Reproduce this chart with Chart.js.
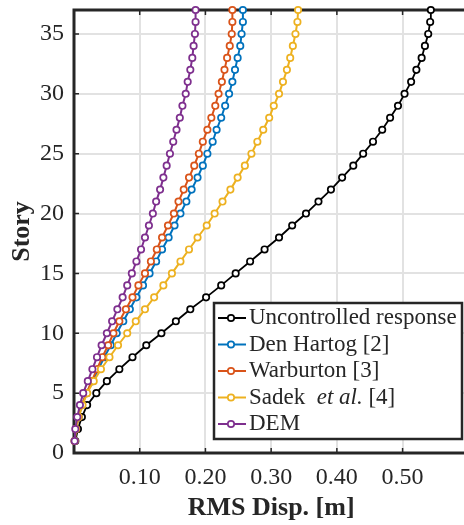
<!DOCTYPE html>
<html>
<head>
<meta charset="utf-8">
<script src="https://cdn.jsdelivr.net/npm/chart.js@4.4.1/dist/chart.umd.min.js"></script>
<style>
  html, body { margin: 0; padding: 0; overflow: hidden; background: #fff; }
  #wrap { width: 464px; height: 525px; overflow: hidden; }
</style>
</head>
<body>
<div id="wrap"><canvas id="rmsChart" width="474" height="525"></canvas></div>
<script>
// story numbers (y axis)
const stories = [1, 2, 3, 4, 5, 6, 7, 8, 9, 10, 11, 12, 13, 14, 15, 16, 17, 18, 19,
  20, 21, 22, 23, 24, 25, 26, 27, 28, 29, 30, 31, 32, 33, 34, 35, 36, 37];

// RMS displacement [m] per story
const uncontrolled = [0.002, 0.006, 0.012, 0.020, 0.034, 0.050, 0.069, 0.089, 0.110, 0.133,
  0.155, 0.177, 0.201, 0.224, 0.246, 0.268, 0.290, 0.312, 0.332, 0.353, 0.372, 0.391, 0.408,
  0.425, 0.440, 0.455, 0.469, 0.481, 0.493, 0.503, 0.513, 0.521, 0.529, 0.534, 0.539, 0.542, 0.543];
const denHartog = [0.001, 0.003, 0.007, 0.012, 0.019, 0.028, 0.037, 0.046, 0.056, 0.065,
  0.075, 0.085, 0.095, 0.105, 0.115, 0.125, 0.134, 0.144, 0.153, 0.162, 0.171, 0.179, 0.188,
  0.196, 0.203, 0.211, 0.217, 0.224, 0.230, 0.236, 0.241, 0.245, 0.249, 0.253, 0.255, 0.257, 0.257];
const warburton = [0.001, 0.003, 0.007, 0.012, 0.019, 0.027, 0.035, 0.043, 0.052, 0.060,
  0.069, 0.079, 0.089, 0.098, 0.108, 0.117, 0.126, 0.134, 0.143, 0.152, 0.159, 0.167, 0.175,
  0.183, 0.190, 0.196, 0.203, 0.209, 0.215, 0.220, 0.225, 0.229, 0.233, 0.237, 0.240, 0.241, 0.241];
const sadek = [0.001, 0.003, 0.007, 0.013, 0.020, 0.030, 0.041, 0.054, 0.067, 0.081,
  0.094, 0.108, 0.122, 0.136, 0.149, 0.162, 0.175, 0.188, 0.202, 0.214, 0.226, 0.238, 0.249,
  0.260, 0.270, 0.279, 0.288, 0.297, 0.304, 0.312, 0.318, 0.324, 0.329, 0.333, 0.337, 0.340, 0.341];
const dem = [0.001, 0.002, 0.005, 0.009, 0.014, 0.021, 0.028, 0.035, 0.042, 0.050,
  0.058, 0.066, 0.074, 0.081, 0.088, 0.095, 0.102, 0.108, 0.114, 0.120, 0.125, 0.131, 0.136,
  0.141, 0.146, 0.151, 0.156, 0.161, 0.165, 0.170, 0.173, 0.177, 0.180, 0.182, 0.184, 0.185, 0.185];

const seriesNames = ['Uncontrolled response', 'Den Hartog [2]', 'Warburton [3]', 'Sadek  et al. [4]', 'DEM'];
const seriesColors = ['#000000', '#0072BD', '#D95319', '#EDB120', '#7E2F8E'];
const seriesValues = [uncontrolled, denHartog, warburton, sadek, dem];

const xTickValues = [0.1, 0.2, 0.3, 0.4, 0.5];
const xTickLabels = ['0.10', '0.20', '0.30', '0.40', '0.50'];
const yTickValues = [0, 5, 10, 15, 20, 25, 30, 35];
const yTickLabels = ['0', '5', '10', '15', '20', '25', '30', '35'];

const FONT = "'Liberation Serif', 'Times New Roman', serif";
const AXIS = '#262626';

function toPoints(vals) {
  return stories.map((s, i) => ({ x: vals[i], y: s }));
}

const datasets = seriesValues.map((vals, i) => ({
  label: seriesNames[i],
  data: toPoints(vals),
  showLine: true,
  borderColor: seriesColors[i],
  borderWidth: i === 0 ? 1.8 : 2,
  pointRadius: 3.2,
  pointBorderWidth: 1.7,
  pointBackgroundColor: '#ffffff',
  pointBorderColor: seriesColors[i],
  clip: false,
  order: seriesValues.length - i
}));

// box + inward ticks like the matlab axes
const framePlugin = {
  id: 'frame',
  beforeDatasetsDraw(chart) {
    const { ctx, chartArea: a, scales } = chart;
    ctx.save();
    ctx.strokeStyle = AXIS;
    ctx.lineWidth = 1.5;
    ctx.beginPath();
    xTickValues.forEach(v => {
      const px = scales.x.getPixelForValue(v);
      ctx.moveTo(px, a.bottom); ctx.lineTo(px, a.bottom - 5);
      ctx.moveTo(px, a.top); ctx.lineTo(px, a.top + 5);
    });
    yTickValues.forEach(v => {
      const py = scales.y.getPixelForValue(v);
      ctx.moveTo(a.left, py); ctx.lineTo(a.left + 5, py);
    });
    ctx.stroke();
    ctx.lineWidth = 3;
    ctx.strokeRect(a.left, a.top, a.right - a.left, a.bottom - a.top);
    ctx.restore();
  }
};

// legend box drawn inside the axes
const legendPlugin = {
  id: 'boxLegend',
  afterDraw(chart) {
    const ctx = chart.ctx;
    const bx = 214, by = 303, bw = 248, bh = 136;
    ctx.save();
    ctx.fillStyle = '#fff';
    ctx.fillRect(bx, by, bw, bh);
    ctx.strokeStyle = AXIS;
    ctx.lineWidth = 2.5;
    ctx.strokeRect(bx, by, bw, bh);
    ctx.textBaseline = 'middle';
    chart.data.datasets.forEach((ds, i) => {
      const y = 318 + i * 26.5;
      ctx.strokeStyle = ds.borderColor;
      ctx.lineWidth = 2;
      ctx.beginPath();
      ctx.moveTo(218, y); ctx.lineTo(246, y);
      ctx.stroke();
      ctx.beginPath();
      ctx.arc(231, y, 3.2, 0, Math.PI * 2);
      ctx.fillStyle = '#fff';
      ctx.fill();
      ctx.lineWidth = 1.7;
      ctx.stroke();
      ctx.fillStyle = AXIS;
      let x = 249;
      if (ds.label.indexOf('et al.') >= 0) {
        const parts = [['Sadek  ', 'normal'], ['et al.', 'italic'], [' [4]', 'normal']];
        parts.forEach(p => {
          ctx.font = p[1] + ' 23px ' + FONT;
          ctx.fillText(p[0], x, y);
          x += ctx.measureText(p[0]).width;
        });
      } else {
        ctx.font = '23px ' + FONT;
        ctx.fillText(ds.label, x, y);
      }
    });
    ctx.restore();
  }
};

new Chart(document.getElementById('rmsChart'), {
  type: 'scatter',
  data: { datasets: datasets },
  options: {
    responsive: false,
    animation: false,
    layout: { padding: { top: 10, right: 3, left: 0, bottom: 0 } },
    plugins: { legend: { display: false }, tooltip: { enabled: false } },
    scales: {
      x: {
        type: 'linear',
        min: 0,
        max: 0.6,
        afterFit(scale) {
          scale.height = 72;
          scale.paddingLeft = 0;
          scale.paddingRight = 0;
        },
        afterBuildTicks(scale) { scale.ticks = xTickValues.map(v => ({ value: v })); },
        ticks: {
          padding: 10,
          color: AXIS,
          font: { family: FONT, size: 24 },
          callback: function (v, idx) { return xTickLabels[idx]; }
        },
        grid: { color: '#e2e2e2', lineWidth: 2, drawTicks: false },
        border: { display: false },
        title: {
          display: true,
          text: 'RMS Disp. [m]',
          color: AXIS,
          font: { family: FONT, size: 26, weight: 'bold' },
          padding: { top: 0, bottom: 1 }
        }
      },
      y: {
        type: 'linear',
        min: 0,
        max: 37,
        afterFit(scale) {
          scale.width = 74;
          scale.paddingTop = 0;
          scale.paddingBottom = 0;
        },
        afterBuildTicks(scale) { scale.ticks = yTickValues.map(v => ({ value: v })); },
        ticks: {
          padding: 10,
          color: AXIS,
          font: { family: FONT, size: 24 },
          callback: function (v, idx) { return yTickLabels[idx]; }
        },
        grid: { color: '#e2e2e2', lineWidth: 2, drawTicks: false },
        border: { display: false },
        title: {
          display: true,
          text: 'Story',
          color: AXIS,
          font: { family: FONT, size: 26, weight: 'bold' },
          padding: { top: 7, bottom: 0 }
        }
      }
    }
  },
  plugins: [framePlugin, legendPlugin]
});
</script>
</body>
</html>
